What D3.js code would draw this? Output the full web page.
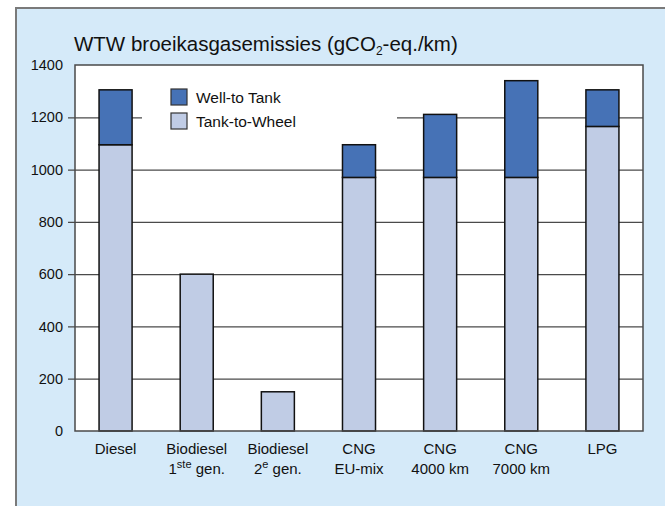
<!DOCTYPE html>
<html>
<head>
<meta charset="utf-8">
<script src="https://cdn.jsdelivr.net/npm/d3@7"></script>
<style>
  html, body { margin: 0; padding: 0; background: #ffffff; }
  svg { display: block; font-family: "Liberation Sans", Arial, Helvetica, sans-serif; }
</style>
</head>
<body>
<svg id="chart" width="665" height="506"></svg>
<script>
// Fuel pathways (two label lines each; "^" marks a superscript part)
const categories = ["Diesel", "Biodiesel 1", "Biodiesel 2", "CNG EU-mix", "CNG 4000 km", "CNG 7000 km", "LPG"];
const labelLine1 = ["Diesel", "Biodiesel", "Biodiesel", "CNG", "CNG", "CNG", "LPG"];
const labelLine2 = ["", "1^ste^ gen.", "2^e^ gen.", "EU-mix", "4000 km", "7000 km", ""];

// gCO2-eq./km
const tankToWheel = [1095, 600, 150, 970, 970, 970, 1165];
const wellToTank  = [210, 0, 0, 125, 241, 370, 140];

const yTicks = [0, 200, 400, 600, 800, 1000, 1200, 1400];
const seriesNames = ["Well-to Tank", "Tank-to-Wheel"];

const colWtT = "#4672b6";
const colTtW = "#c0cce5";

const svg = d3.select("#chart");

// panel background with top/left rule
svg.append("rect").attr("x", 16).attr("y", 8).attr("width", 665).attr("height", 520)
  .attr("fill", "#d5eaf9");
svg.append("path").attr("d", "M16,520 V8 H665")
  .attr("fill", "none").attr("stroke", "#7a7a7a").attr("stroke-width", 2);

// title with subscript
const title = svg.append("text").attr("x", 74).attr("y", 51)
  .attr("font-size", 20.5).attr("fill", "#111");
title.append("tspan").text("WTW broeikasgasemissies (gCO");
title.append("tspan").attr("font-size", 12).attr("dy", 4).text("2");
title.append("tspan").attr("dy", -4).text("-eq./km)");

const plot = { left: 75, right: 643, top: 65, bottom: 431 };

const x = d3.scaleBand().domain(categories)
  .range([plot.left, plot.right])
  .paddingInner(0.593).paddingOuter(0.2965);
const y = d3.scaleLinear().domain([0, 1400]).range([plot.bottom, plot.top]);

// plot area
svg.append("rect").attr("x", plot.left).attr("y", plot.top)
  .attr("width", plot.right - plot.left).attr("height", plot.bottom - plot.top)
  .attr("fill", "#ffffff");

// gridlines with outside ticks
const yAxis = d3.axisLeft(y).tickValues(yTicks)
  .tickSize(plot.right - plot.left + 7).tickSizeOuter(0).tickPadding(5)
  .tickFormat(d3.format("d"));
const gAxis = svg.append("g").attr("transform", `translate(${plot.right},0)`).call(yAxis);
gAxis.select(".domain").remove();
gAxis.selectAll(".tick line")
  .attr("stroke", "#4a4a4a").attr("stroke-width", 1.3)
  .attr("display", d => (d === 0 || d === 1400) ? "none" : null);
gAxis.selectAll(".tick text")
  .attr("font-size", 14.5).attr("fill", "#111")
  .attr("font-family", "Liberation Sans, Arial, sans-serif");

// legend background (hides the gridline behind it)
const legend = svg.append("g");
legend.append("rect").attr("x", 142).attr("y", 80).attr("width", 255).attr("height", 60)
  .attr("fill", "#ffffff");
const legendItems = legend.selectAll("g.item").data(seriesNames).join("g")
  .attr("transform", (d, i) => `translate(171,${89 + i * 24})`);
legendItems.append("rect").attr("width", 16).attr("height", 16)
  .attr("fill", (d, i) => i === 0 ? colWtT : colTtW)
  .attr("stroke", "#333").attr("stroke-width", 1.2);
legendItems.append("text").attr("x", 25).attr("y", 13.5)
  .attr("font-size", 15.5).attr("fill", "#111").text(d => d);

// stacked bars
const data = categories.map((c, i) => ({ c, ttw: tankToWheel[i], wtt: wellToTank[i] }));
const bars = svg.append("g");
bars.selectAll("rect.ttw").data(data).join("rect")
  .attr("class", "ttw")
  .attr("x", d => x(d.c)).attr("width", x.bandwidth())
  .attr("y", d => y(d.ttw)).attr("height", d => y(0) - y(d.ttw))
  .attr("fill", colTtW).attr("stroke", "#111").attr("stroke-width", 1.5);
bars.selectAll("rect.wtt").data(data.filter(d => d.wtt > 0)).join("rect")
  .attr("class", "wtt")
  .attr("x", d => x(d.c)).attr("width", x.bandwidth())
  .attr("y", d => y(d.ttw + d.wtt)).attr("height", d => y(d.ttw) - y(d.ttw + d.wtt))
  .attr("fill", colWtT).attr("stroke", "#111").attr("stroke-width", 1.5);

// plot frame
svg.append("rect").attr("x", plot.left).attr("y", plot.top)
  .attr("width", plot.right - plot.left).attr("height", plot.bottom - plot.top)
  .attr("fill", "none").attr("stroke", "#4a4a4a").attr("stroke-width", 1.5);

// category labels
const xl = svg.append("g").attr("font-size", 15).attr("fill", "#111").attr("text-anchor", "middle");
categories.forEach((c, i) => {
  const cx = x(c) + x.bandwidth() / 2;
  xl.append("text").attr("x", cx).attr("y", 454).text(labelLine1[i]);
  if (labelLine2[i]) {
    const t = xl.append("text").attr("x", cx).attr("y", 474);
    labelLine2[i].split("^").forEach((part, k) => {
      if (!part) return;
      const sp = t.append("tspan").text(part);
      if (k === 1) sp.attr("font-size", 11).attr("dy", -6);
      else if (k === 2) sp.attr("dy", 6);
    });
  }
});
</script>
</body>
</html>
